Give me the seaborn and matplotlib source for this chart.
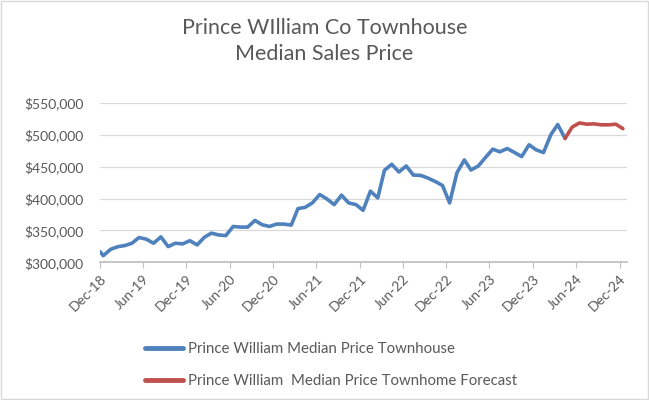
import pandas as pd
import matplotlib.pyplot as plt
import matplotlib.dates as mdates
from matplotlib.ticker import FuncFormatter
import seaborn as sns

sns.set_theme(style="white")
plt.rcParams['font.family'] = ['Lato', 'DejaVu Sans']

# Mediana mensal (townhouse), primeiro ponto em 1-dez-2018, depois meio do mês
precos = [317000,
          310500, 320500, 324700, 326300, 330000, 339000, 336300, 330000, 340000, 324700,
          330000, 329000, 334000, 327400, 339500, 345800, 343000, 342000, 356300, 355300,
          355300, 365800, 359000, 356300, 360000, 360000, 358400, 384200, 386300, 393200,
          406300, 399500, 390500, 405300, 393200, 390500, 381600, 411600, 401000, 444200,
          453700, 441600, 451000, 436800, 436300, 432000, 426800, 420500, 393200, 440500,
          460500, 444700, 451000, 464200, 477400, 473200, 478400, 472100, 465800, 484200,
          476300, 472100, 500000, 516000, 494200]
previsao = [494200, 512000, 518500, 516500, 517000, 515500, 515500, 516500, 509500]

serie_label = 'Prince William Median Price Townhouse'
prev_label = 'Prince William  Median Price Townhome Forecast'

meses = pd.date_range('2018-12-01', periods=74, freq='MS') + pd.Timedelta(days=14)
datas = [pd.Timestamp('2018-12-01')] + list(meses[:len(precos) - 1])
datas_prev = list(meses[len(precos) - 2:len(precos) - 2 + len(previsao)])

df = pd.DataFrame({'data': datas, 'preco': precos, 'serie': serie_label})
df_prev = pd.DataFrame({'data': datas_prev, 'preco': previsao, 'serie': prev_label})
dados = pd.concat([df, df_prev], ignore_index=True)

cinza = '#595959'
fig = plt.figure(figsize=(6.49, 4.0), dpi=100)
ax = fig.add_axes([0.154, 0.344, 0.812, 0.399])

sns.lineplot(data=dados, x='data', y='preco', hue='serie',
             palette={serie_label: '#4F81BD', prev_label: '#C0504D'},
             linewidth=2.6, ax=ax, legend=False)

ax.set_ylim(300000, 550000)
ax.set_yticks(range(300000, 550001, 50000))
ax.yaxis.set_major_formatter(FuncFormatter(lambda v, p: f'${v:,.0f}'))
ax.set_xlim(pd.Timestamp('2018-12-01'), pd.Timestamp('2025-01-01'))
ticks = pd.date_range('2018-12-01', '2024-12-01', freq='6MS')
ax.set_xticks(ticks)
ax.xaxis.set_major_formatter(mdates.DateFormatter('%b-%y'))
plt.setp(ax.get_xticklabels(), rotation=45, ha='right', rotation_mode='anchor')
ax.tick_params(axis='x', colors='#BFBFBF', labelcolor=cinza, labelsize=10,
               length=4, width=0.8, direction='out', bottom=True)
ax.tick_params(axis='y', labelcolor=cinza, labelsize=10, length=0, pad=12)
ax.grid(axis='y', color='#D9D9D9', linewidth=0.9)
for lado in ['top', 'right', 'left']:
    ax.spines[lado].set_visible(False)
ax.spines['bottom'].set_color('#BFBFBF')
ax.set_xlabel('')
ax.set_ylabel('')

fig.suptitle('Prince WIlliam Co Townhouse\nMedian Sales Price', y=0.955,
             fontsize=15.5, color=cinza, linespacing=1.35)

h1, = ax.plot([], [], color='#4F81BD', linewidth=3.5, solid_capstyle='round')
h2, = ax.plot([], [], color='#C0504D', linewidth=3.5, solid_capstyle='round')
leg = fig.legend([h1, h2], [serie_label, prev_label], loc='upper left',
                 bbox_to_anchor=(0.203, 0.178), frameon=False, fontsize=10.8,
                 handlelength=2.5, handletextpad=0.35, labelspacing=1.2,
                 labelcolor=cinza)

fig.patches.append(plt.Rectangle((0.002, 0.002), 0.996, 0.996, transform=fig.transFigure,
                                 fill=False, edgecolor='#D9D9D9', linewidth=1))

fig.savefig('out.png', dpi=100)
